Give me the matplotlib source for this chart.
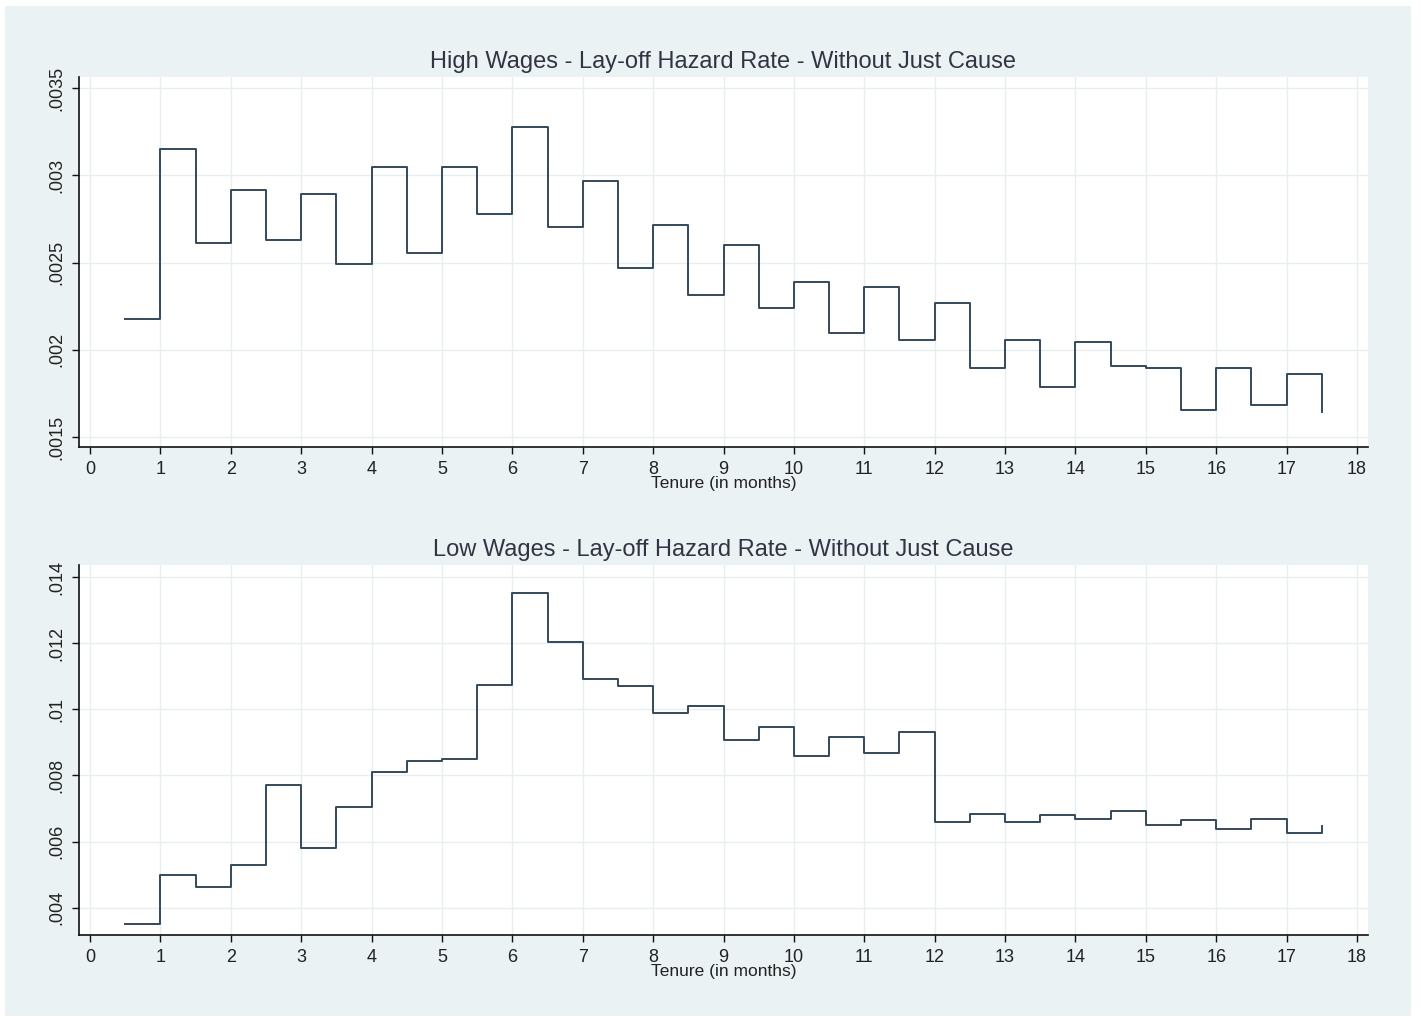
import matplotlib
matplotlib.use("Agg")
import matplotlib.pyplot as plt
from matplotlib.patches import Rectangle

# tenure (months), hazard steps drawn as stairs starting at each point
tenure = [0.5, 1, 1.5, 2, 2.5, 3, 3.5, 4, 4.5, 5, 5.5, 6, 6.5, 7, 7.5, 8, 8.5, 9,
          9.5, 10, 10.5, 11, 11.5, 12, 12.5, 13, 13.5, 14, 14.5, 15, 15.5, 16, 16.5, 17, 17.5]

high_wages = [0.002175, 0.003151, 0.002610, 0.002917, 0.002629, 0.002890, 0.002489,
              0.003047, 0.002555, 0.003047, 0.002779, 0.003279, 0.002704, 0.002965,
              0.002470, 0.002714, 0.002313, 0.002601, 0.002240, 0.002390, 0.002098,
              0.002361, 0.002054, 0.002269, 0.001897, 0.002054, 0.001784, 0.002046,
              0.001907, 0.001897, 0.001655, 0.001897, 0.001684, 0.001862, 0.001644]

low_wages = [0.003516, 0.004988, 0.004635, 0.005280, 0.007710, 0.005804, 0.007034,
             0.008093, 0.008446, 0.008486, 0.010724, 0.013516, 0.012044, 0.010925,
             0.010694, 0.009897, 0.010099, 0.009071, 0.009464, 0.008577, 0.009171,
             0.008677, 0.009323, 0.006581, 0.006843, 0.006581, 0.006792, 0.006692,
             0.006933, 0.006490, 0.006641, 0.006389, 0.006692, 0.006248, 0.006460]

x_ticks = list(range(0, 19))
high_yticks = [0.0015, 0.002, 0.0025, 0.003, 0.0035]
high_ylabels = [".0015", ".002", ".0025", ".003", ".0035"]
low_yticks = [0.004, 0.006, 0.008, 0.010, 0.012, 0.014]
low_ylabels = [".004", ".006", ".008", ".01", ".012", ".014"]

titles = ["High Wages - Lay-off Hazard Rate - Without Just Cause",
          "Low Wages - Lay-off Hazard Rate - Without Just Cause"]

W, H = 1421, 1019
BG = "#eaf2f3"
LINE = "#34495a"

fig = plt.figure(figsize=(W / 100, H / 100), dpi=100, facecolor="white")
fig.patches.append(Rectangle((5 / W, 1 - 1016 / H), 1406 / W, 1010 / H,
                             transform=fig.transFigure, facecolor=BG,
                             edgecolor="none", zorder=-10))

font = ["Liberation Sans", "DejaVu Sans"]


def panel(top_px, bot_px, y, yticks, ylabels, ylim, title):
    ax = fig.add_axes([79 / W, 1 - bot_px / H, (1368 - 79) / W, (bot_px - top_px) / H])
    ax.set_facecolor("white")
    ax.plot(tenure, y, drawstyle="steps-post", color=LINE, lw=1.4)
    ax.set_xlim(-0.156, 18.156)
    ax.set_ylim(*ylim)
    ax.set_xticks(x_ticks)
    ax.set_xticklabels([str(t) for t in x_ticks], family=font, fontsize=13, color="#222222")
    ax.set_yticks(yticks)
    ax.set_yticklabels(ylabels, family=font, fontsize=13, color="#222222",
                       rotation=90, va="center")
    ax.grid(True, color="#e6eef0", lw=1.0)
    ax.set_axisbelow(True)
    for s in ["top", "right"]:
        ax.spines[s].set_visible(False)
    for s in ["left", "bottom"]:
        ax.spines[s].set_color("#111111")
        ax.spines[s].set_linewidth(1.2)
    ax.tick_params(direction="out", length=5, width=1.0, color="#111111", pad=5)
    ax.set_xlabel("Tenure (in months)", family=font, fontsize=12.5, color="#222222")
    ax.xaxis.set_label_coords(0.5004, -0.098)
    ax.xaxis.label.set_va("center")
    ax.set_title(title, family=font, fontsize=17, color="#333344",
                 y=1 + 15 / (bot_px - top_px), va="center", pad=0)
    return ax


panel(77, 447, high_wages, high_yticks, high_ylabels, (0.001443, 0.003563), titles[0])
panel(565, 935, low_wages, low_yticks, low_ylabels, (0.003174, 0.014363), titles[1])

fig.savefig("out.png", dpi=100, facecolor="white")
